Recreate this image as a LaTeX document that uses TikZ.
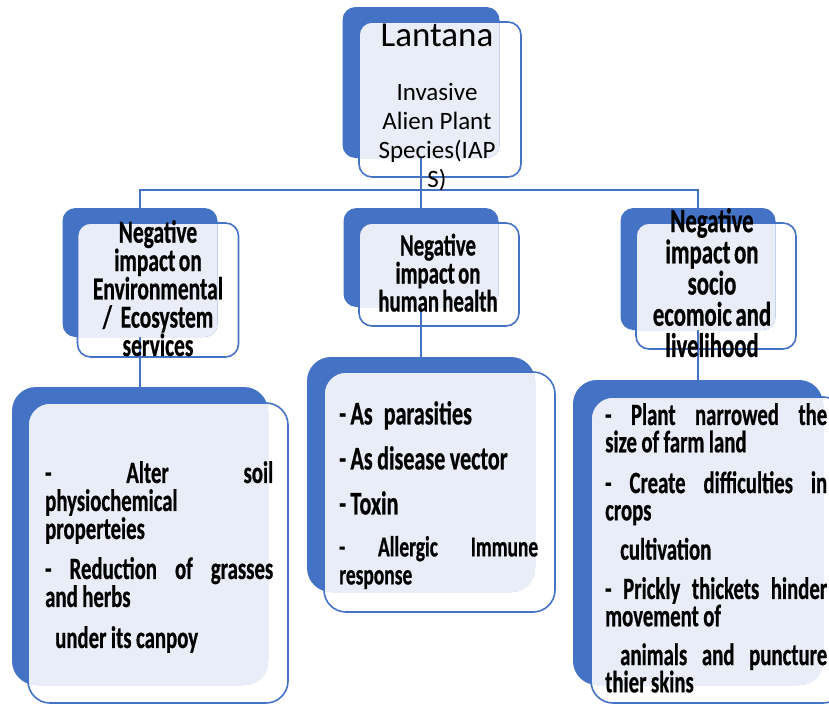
\documentclass[tikz,border=0pt]{standalone}
\usepackage{fontspec}
\setmainfont{Carlito}
\newfontfamily\agency{Carlito}[FakeStretch=0.67, FakeBold=0.6, WordSpace=0.7]
\setlength{\parindent}{0pt}
\definecolor{boxblue}{HTML}{4472C4}
\definecolor{boxtint}{HTML}{E9EDF7}
\newcommand{\spreadline}[2][\hsize]{\leavevmode\hbox to #1{#2}}
\newcommand{\tightspace}{\spaceskip=4.5pt plus 2pt minus 1pt\relax}
\newcommand{\tintoverlap}[3]{%
  \begin{scope}
    \clip[rounded corners=#3] (#1.south west) rectangle (#1.north east);
    \fill[boxtint, rounded corners=#3] (#2.south west) rectangle (#2.north east);
  \end{scope}}
\begin{document}
\begin{tikzpicture}[x=1pt,y=-1pt,
  backbox/.style={fill=boxblue, rounded corners=13pt, inner sep=0, outer sep=0},
  frontbox/.style={inner sep=0, outer sep=0},
  edgeline/.style={draw=boxblue, line width=1.6pt},
  outline/.style={draw=boxblue, line width=1.6pt},
  headtext/.style 2 args={font=\agency\bfseries\fontsize{#1}{#2}\selectfont, align=center, anchor=north, inner sep=0},
  listtext/.style 2 args={font=\agency\bfseries\fontsize{#1}{#2}\selectfont, align=left, anchor=north west, inner sep=0}]
\useasboundingbox (0,0) rectangle (829,704);
\clip (0,0) rectangle (829,704);

% back boxes
\node[backbox, minimum width=157pt, minimum height=151pt] (lantanaB) at (421,82.5) {};
\node[backbox, minimum width=155pt, minimum height=129pt] (envB) at (140,272.5) {};
\node[backbox, minimum width=155pt, minimum height=99pt] (healthB) at (421,257.5) {};
\node[backbox, minimum width=155pt, minimum height=122pt] (socioB) at (698,269) {};
\node[backbox, rounded corners=24pt, minimum width=256pt, minimum height=298pt] (envListB) at (140,536) {};
\node[backbox, rounded corners=24pt, minimum width=228pt, minimum height=235pt] (healthListB) at (421,474.5) {};
\node[backbox, rounded corners=24pt, minimum width=250pt, minimum height=305pt] (socioListB) at (698,532.5) {};

% front boxes
\node[frontbox, minimum width=162pt, minimum height=155pt] (lantanaF) at (440,99.5) {};
\node[frontbox, minimum width=161pt, minimum height=134pt] (envF) at (158,290) {};
\node[frontbox, minimum width=160pt, minimum height=103pt] (healthF) at (439,274.5) {};
\node[frontbox, minimum width=160pt, minimum height=126pt] (socioF) at (716,286) {};
\node[frontbox, minimum width=260pt, minimum height=300pt] (envListF) at (158,553) {};
\node[frontbox, minimum width=231pt, minimum height=240pt] (healthListF) at (439.5,492) {};
\node[frontbox, minimum width=254pt, minimum height=306pt] (socioListF) at (718,550) {};

% connectors
\coordinate (bus) at (421,190);
\draw[edgeline] (lantanaB.south) -- (healthB.north);
\draw[edgeline] (envB.north) |- (bus) -| (socioB.north);
\draw[edgeline] (envB.south) -- (envListB.north);
\draw[edgeline] (healthB.south) -- (healthListB.north);
\draw[edgeline] (socioB.south) -- (socioListB.north);

\foreach \b/\f/\r in {lantanaB/lantanaF/13pt, envB/envF/13pt, healthB/healthF/13pt, socioB/socioF/13pt, envListB/envListF/22pt, healthListB/healthListF/22pt, socioListB/socioListF/22pt}
  \tintoverlap{\b}{\f}{\r};
\foreach \f/\r in {lantanaF/13pt, envF/13pt, healthF/13pt, socioF/13pt, envListF/22pt, healthListF/22pt, socioListF/22pt}
  \draw[outline, rounded corners=\r] (\f.south west) rectangle (\f.north east);

% texts
\node[font=\fontsize{35}{40}\selectfont, anchor=base, inner sep=0] (lantanaTitle) at (437,46) {Lantana};
\node[font=\fontsize{25}{29}\selectfont, align=center, anchor=north, inner sep=0] (lantanaSub) at (437,83) {Invasive\\Alien Plant\\Species(IAP\\S)};

\node[headtext={32}{28.3}] (envHead) at (158,220) {Negative\\impact on\\Environmental\\/ \,Ecosystem\\services};
\node[headtext={31}{28}] (healthHead) at (438,233.5) {Negative\\impact on\\human health};
\node[headtext={34}{31.2}] (socioHead) at (712,208) {Negative\\impact on\\socio\\ecomoic and\\livelihood};

\node[listtext={31}{28}, text width=228pt] (envList) at (45,461) {\tightspace\spreadline{-\hfill Alter\hfill soil}\\ physiochemical\\ properteies\\[12pt] \spreadline{-\hfill Reduction\hfill of\hfill grasses}\\ and herbs\\[13pt] \hspace*{10pt}under its canpoy};
\node[listtext={33}{45}, text width=210pt] (healthList) at (339,401) {\tightspace - As\hspace{11pt}parasities\\ - As disease vector\\ - Toxin\\ {\fontsize{29}{42}\selectfont\spreadline[199pt]{-\hfill Allergic\hfill Immune}\\[-14pt] response\par}};
\node[listtext={31}{27.3}, text width=222pt] (socioList) at (605,403) {\tightspace\spreadline{-\hfill Plant\hfill narrowed\hfill the}\\ size of farm land\\[13.5pt] \spreadline{-\hfill Create\hfill difficulties\hfill in}\\ crops\\[12pt] \hspace*{15pt}cultivation\\[12pt] \spreadline{-\hfill Prickly\hfill thickets\hfill hinder}\\ movement of\\[11.5pt] \spreadline{\hspace*{15pt}animals\hfill and\hfill puncture}\\ thier skins};
\end{tikzpicture}
\end{document}
